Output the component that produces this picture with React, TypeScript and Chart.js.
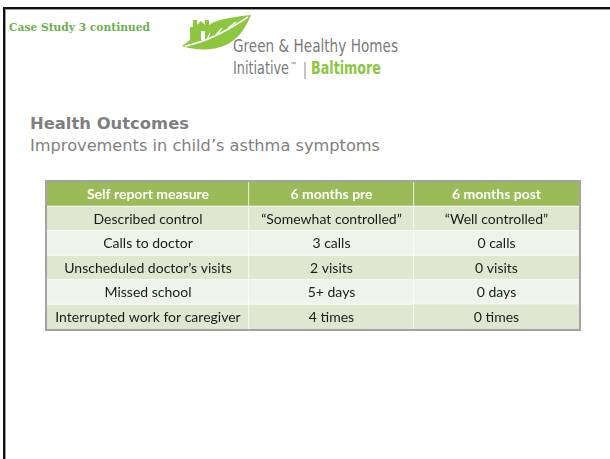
import React, { useEffect, useRef } from 'react';
import { Chart, registerables } from 'chart.js';

Chart.register(...registerables);

// ---- Data ----
const headers = ['Self report measure', '6 months pre', '6 months post'];
const measures = [
  'Described control',
  'Calls to doctor',
  'Unscheduled doctor’s visits',
  'Missed school',
  'Interrupted work for caregiver',
];
const preValues = ['“Somewhat controlled”', '3 calls', '2 visits', '5+ days', '4 times'];
const postValues = ['“Well controlled”', '0 calls', '0 visits', '0 days', '0 times'];

// ---- Layout / style ----
const colWeights = [1.224, 1, 1];
const HEADER_BG = '#9bbb59';
const ROW_BG = ['#dfe7d1', '#eff3ea'];
const TABLE_FONT = 'Lato, "Open Sans", sans-serif';

function TableChart() {
  const ref = useRef<HTMLCanvasElement>(null);
  useEffect(() => {
    if (!ref.current) return;
    const rows: string[][] = [headers, ...measures.map((m, i) => [m, preValues[i], postValues[i]])];
    const bounds: number[] = [0];
    colWeights.forEach((w) => bounds.push(bounds[bounds.length - 1] + w));
    const labels = rows.map((r) => r[0]);
    const bg = rows.map((_, i) => (i === 0 ? HEADER_BG : ROW_BG[(i - 1) % 2]));
    const datasets = headers.map((h, c) => ({
      label: h,
      data: rows.map(() => [bounds[c], bounds[c + 1]]),
      backgroundColor: bg,
      borderColor: '#ffffff',
      borderWidth: (ctx: any) => ({
        top: 0,
        left: 0,
        right: c < headers.length - 1 ? 1 : 0,
        bottom: ctx.dataIndex < rows.length - 1 ? 1 : 0,
      }),
      borderSkipped: false,
      categoryPercentage: 1,
      barPercentage: 1,
      grouped: false,
    }));
    const textPlugin = {
      id: 'cellText',
      afterDatasetsDraw(chart: any) {
        const ctx = chart.ctx;
        ctx.save();
        ctx.textAlign = 'center';
        ctx.textBaseline = 'middle';
        chart.data.datasets.forEach((_: any, c: number) => {
          const meta = chart.getDatasetMeta(c);
          meta.data.forEach((el: any, r: number) => {
            const { x, y, base } = el.getProps(['x', 'y', 'base'], true);
            ctx.font = (r === 0 ? 'bold ' : '') + '14px ' + TABLE_FONT;
            ctx.fillStyle = r === 0 ? '#ffffff' : '#1b1b1b';
            ctx.fillText(rows[r][c], (x + base) / 2, y + 0.5);
          });
        });
        const a = chart.chartArea;
        ctx.strokeStyle = '#a3a3a3';
        ctx.lineWidth = 2;
        ctx.strokeRect(a.left - 1, a.top - 1, a.right - a.left + 2, a.bottom - a.top + 2);
        ctx.restore();
      },
    };
    const chart = new Chart(ref.current, {
      type: 'bar',
      data: { labels, datasets: datasets as any },
      options: {
        indexAxis: 'y',
        responsive: false,
        animation: false,
        layout: { padding: 2 },
        plugins: { legend: { display: false }, tooltip: { enabled: false } },
        scales: {
          x: { type: 'linear', min: 0, max: bounds[bounds.length - 1], display: false },
          y: { display: false },
        },
      },
      plugins: [textPlugin],
    });
    return () => chart.destroy();
  }, []);
  return (
    <canvas
      ref={ref}
      width={536}
      height={151}
      style={{ position: 'absolute', left: 45, top: 180, width: 536, height: 151 }}
    />
  );
}

export default function App() {
  return (
    <div
      style={{
        position: 'fixed',
        left: 0,
        top: 0,
        width: 610,
        height: 459,
        background: '#ffffff',
        overflow: 'hidden',
      }}
    >
      {/* slide frame: top and left edges */}
      <div style={{ position: 'absolute', left: 3, top: 7, width: 607, height: 2, background: '#111' }} />
      <div style={{ position: 'absolute', left: 3, top: 7, width: 2, height: 452, background: '#111' }} />
      <div style={{ position: 'absolute', left: 5, top: 9, width: 605, height: 1, background: '#9a9a9a' }} />
      <div style={{ position: 'absolute', left: 5, top: 9, width: 1, height: 450, background: '#9a9a9a' }} />
      <svg width={610} height={170} style={{ position: 'absolute', left: 0, top: 0 }}>
        <text
          x={9}
          y={31}
          fontFamily="'DejaVu Serif', serif"
          fontWeight="bold"
          fontSize={11}
          fill="#6ab04c"
          textLength={141}
          lengthAdjust="spacingAndGlyphs"
        >
          Case Study 3 continued
        </text>
        {/* logo mark */}
        <path
          d="M182,46 L190,40 L190,27 L193,27 L193,20 L197,20 L197,25 L201,21 L205,25 L205,20 L209,20 L209,25 L214,22 C226,18 238,16 251,15 C246,27 240,37 228,44 C214,51 196,51 182,46 Z"
          fill="#8dc63f"
        />
        <path d="M185,46 C206,42 227,31 248,17" stroke="#fff" strokeWidth={1.6} fill="none" />
        <path d="M215,36 L222,28 M228,28 L236,22 M207,40 L210,33" stroke="#fff" strokeWidth={1.2} fill="none" />
        <rect x={201} y={31} width={4} height={9} fill="#fff" />
        <text
          x={233}
          y={52}
          fontFamily="'Liberation Sans Narrow', 'DejaVu Sans Condensed', sans-serif"
          fontSize={17.5}
          fill="#7a7a7a"
          textLength={165}
          lengthAdjust="spacingAndGlyphs"
        >
          Green &amp; Healthy Homes
        </text>
        <text
          x={233}
          y={74}
          fontFamily="'Liberation Sans Narrow', 'DejaVu Sans Condensed', sans-serif"
          fontSize={17.5}
          fill="#7a7a7a"
          textLength={56}
          lengthAdjust="spacingAndGlyphs"
        >
          Initiative
        </text>
        <text x={290} y={66} fontFamily="'Liberation Sans Narrow', sans-serif" fontSize={6} fill="#7a7a7a">
          ™
        </text>
        <line x1={305} y1={62} x2={305} y2={79} stroke="#8a8a8a" strokeWidth={1} />
        <text
          x={311}
          y={74}
          fontFamily="'Liberation Sans Narrow', 'DejaVu Sans Condensed', sans-serif"
          fontWeight="bold"
          fontSize={17.5}
          fill="#8dc63f"
          textLength={70}
          lengthAdjust="spacingAndGlyphs"
        >
          Baltimore
        </text>
        <text
          x={30}
          y={128.5}
          fontFamily="'DejaVu Sans', sans-serif"
          fontWeight="bold"
          fontSize={16}
          fill="#7f7f7f"
          textLength={159}
          lengthAdjust="spacingAndGlyphs"
        >
          Health Outcomes
        </text>
        <text
          x={30}
          y={150.5}
          fontFamily="'DejaVu Sans', sans-serif"
          fontSize={16}
          fill="#7f7f7f"
          textLength={350}
          lengthAdjust="spacingAndGlyphs"
        >
          Improvements in child’s asthma symptoms
        </text>
      </svg>
      <TableChart />
    </div>
  );
}
